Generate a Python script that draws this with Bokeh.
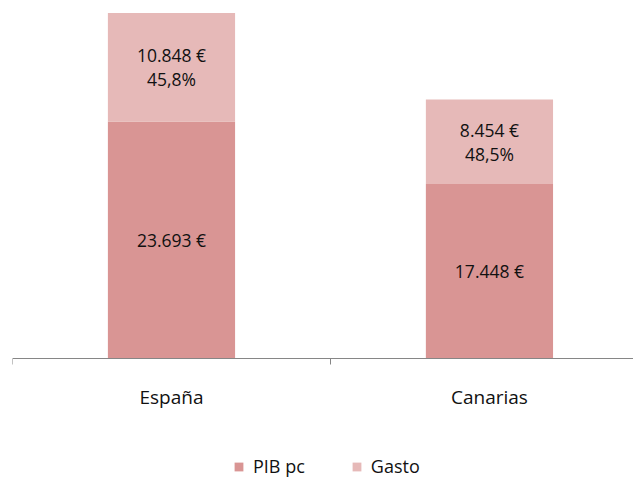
from bokeh.plotting import figure
from bokeh.models import ColumnDataSource, FixedTicker, Legend, LegendItem, Range1d
from bokeh.embed import file_html
from bokeh.resources import INLINE
from bokeh.core.properties import value

categories = ["España", "Canarias"]
pib_pc = [23693, 17448]
gasto = [10848, 8454]
series = ["PIB pc", "Gasto"]
colors = ["#D99594", "#E6B9B8"]

FONT = "Open Sans"


def fmt_euro(v):
    return f"{v:,}".replace(",", ".") + " €"


def fmt_pct(v):
    return f"{v:.1f}".replace(".", ",") + "%"


xs = [i + 0.5 for i in range(len(categories))]
src = ColumnDataSource(dict(
    x=xs,
    pib=pib_pc,
    gasto=gasto,
    pib_mid=[v / 2 for v in pib_pc],
    gasto_mid=[a + b / 2 for a, b in zip(pib_pc, gasto)],
    pib_lab=[fmt_euro(v) for v in pib_pc],
    gasto_lab=[fmt_euro(b) + "\n" + fmt_pct(100 * b / a) for a, b in zip(pib_pc, gasto)],
))

p = figure(width=633, height=479, x_range=Range1d(0, 1.953), y_range=Range1d(-12100, 35000),
           output_backend="svg", toolbar_location=None, y_axis_location=None,
           min_border_left=12, min_border_right=0, min_border_top=8, min_border_bottom=0)
p.outline_line_color = None
p.grid.visible = False

rs = p.vbar_stack(["pib", "gasto"], x="x", width=0.4, color=colors, line_color=None, source=src)

for ycol, tcol in (("pib_mid", "pib_lab"), ("gasto_mid", "gasto_lab")):
    p.text(x="x", y=ycol, text=tcol, source=src, text_align="center", text_baseline="middle",
           text_font=value(FONT), text_font_size="17.5px", text_color="#111111",
           text_line_height=1.0)

ax = p.xaxis[0]
ax.fixed_location = 0
ax.ticker = FixedTicker(ticks=xs, minor_ticks=[0, 1, 2])
ax.major_label_overrides = {x: c for x, c in zip(xs, categories)}
ax.major_tick_line_color = None
ax.major_tick_out = 0
ax.major_tick_in = 0
ax.minor_tick_line_color = "#868686"
ax.minor_tick_out = 6
ax.minor_tick_in = 0
ax.axis_line_color = "#868686"
ax.major_label_standoff = 19
ax.major_label_text_font = FONT
ax.major_label_text_font_size = "19px"
ax.major_label_text_color = "#111111"

legend = Legend(items=[LegendItem(label=s, renderers=[r]) for s, r in zip(series, rs)],
                orientation="horizontal", location=(221, 1), border_line_color=None,
                label_text_font=FONT, label_text_font_size="18px", label_text_color="#111111",
                glyph_width=11, glyph_height=11, label_standoff=9, spacing=46,
                padding=0, margin=0, background_fill_alpha=0)
p.add_layout(legend)

open("out.html", "w").write(file_html(p, INLINE))
